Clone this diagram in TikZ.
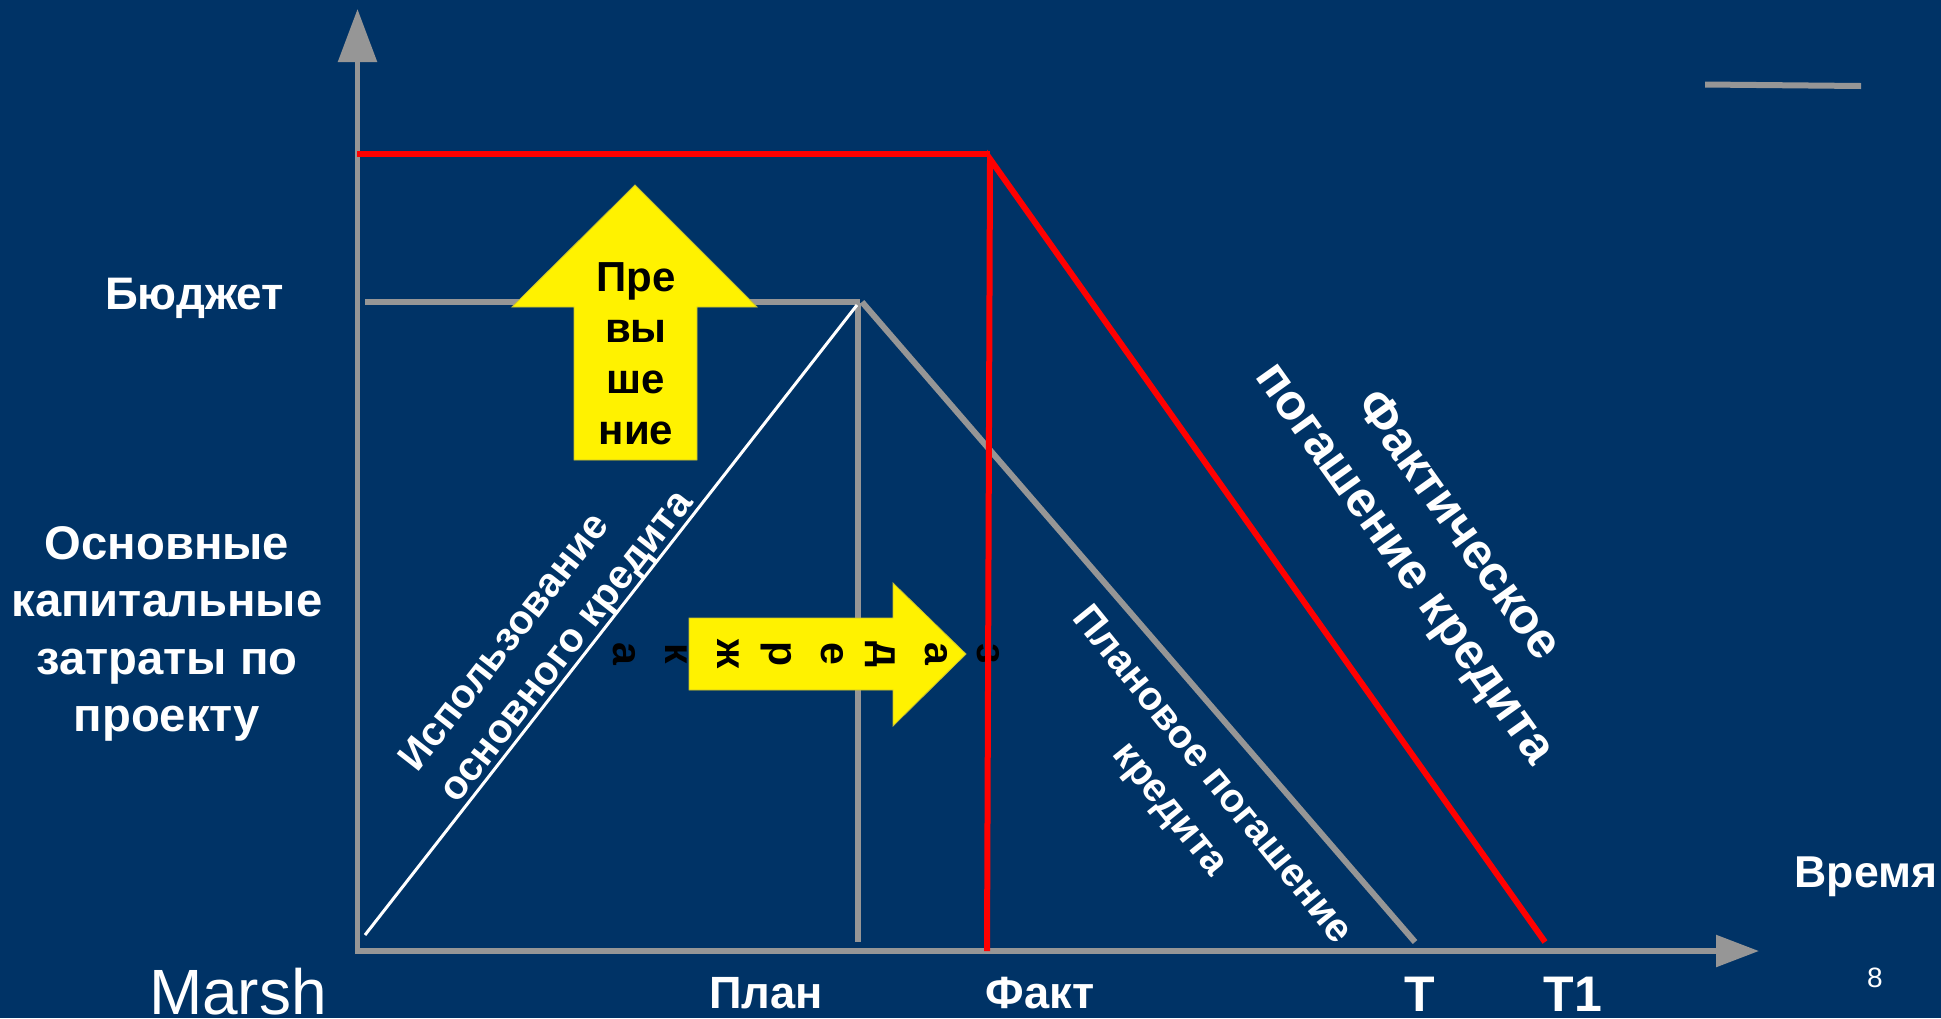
\documentclass[tikz,border=0pt]{standalone}
\usepackage{fontspec}
\setmainfont{Liberation Sans}
\usetikzlibrary{arrows.meta}

\definecolor{slidebg}{RGB}{0,51,102}
\definecolor{axisgray}{RGB}{150,150,150}

\tikzset{
    axisline/.style={draw=axisgray, line width=2.8pt},
    greyline/.style={draw=axisgray, line width=3pt},
    redline/.style={draw=red, line width=3pt},
    lbl/.style={text=white, inner sep=0pt},
    bigarrow/.style={fill=yellow, draw=yellow!75!black, line width=0.4pt},
    arrowtext/.style={text=black, inner sep=0pt, align=center},
}

\begin{document}
\begin{tikzpicture}[x=0.5pt, y=-0.5pt]
    % Background
    \fill[slidebg] (0,0) rectangle (1941,1018);
    \useasboundingbox (0,0) rectangle (1941,1018);

    % Key points
    \coordinate (O) at (357.5,951);
    \coordinate (ytop) at (357.5,9);
    \coordinate (xstart) at (355,951);
    \coordinate (xend) at (1759,951);
    \coordinate (budgetL) at (365,302);
    \coordinate (budgetR) at (860,302);
    \coordinate (planTop) at (858,303);
    \coordinate (planBot) at (858,942);
    \coordinate (peak) at (862,302);
    \coordinate (endT) at (1415,942);
    \coordinate (useBot) at (365,935);
    \coordinate (useTop) at (857,305);
    \coordinate (maxL) at (357,153.5);
    \coordinate (maxR) at (990,153.5);
    \coordinate (factBot) at (987,951);
    \coordinate (factTop) at (990,159);
    \coordinate (endT1) at (1545,942);

    % Axes
    \draw[axisline, -{Triangle[length=26.5pt,width=19pt]}] (O) -- (ytop);
    \draw[axisline, -{Triangle[length=21.5pt,width=15.5pt]}] (xstart) -- (xend);

    % Planned schedule
    \draw[greyline] (budgetL) -- (budgetR); % budget level
    \draw[greyline] (planTop) -- (planBot); % plan date
    \draw[greyline] (peak) -- (endT); % planned repayment
    \draw[white, line width=1.5pt] (useBot) -- (useTop); % credit drawdown

    % Stray line top right
    \draw[greyline] (1705,84.5) -- (1861,86);

    % Yellow arrows
    \draw[bigarrow] (574,460) -- (574,307) -- (512,307) -- (635,185) -- (757,307) -- (697,307) -- (697,460) -- cycle;
    \draw[bigarrow] (689,618) -- (893,618) -- (893,583) -- (966,654) -- (893,726) -- (893,690) -- (689,690) -- cycle;

    \node[arrowtext, font=\bfseries\fontsize{21}{25.5}\selectfont] (overrun) at (636,354) {Пре\\вы\\ше\\ние};
    \node[arrowtext, rotate=-90, font=\bfseries\fontsize{20.5}{26}\selectfont] (delay) at (806,654) {з\\а\\д\\е\\р\\ж\\к\\а};

    % Actual schedule
    \draw[redline] (maxL) -- (maxR); % actual level
    \draw[redline] (factBot) -- (factTop) -- (endT1); % actual date and repayment

    % Labels
    \node[lbl, anchor=base, font=\bfseries\fontsize{22.8}{27}\selectfont] (budget) at (194.5,309) {Бюджет};
    \node[lbl, align=center, font=\bfseries\fontsize{23.6}{28.75}\selectfont] (capex) at (167,634) {Основные\\капитальные\\затраты по\\проекту};
    \node[lbl, anchor=base, font=\fontsize{32}{37}\selectfont] (marsh) at (238,1014) {Marsh};
    \node[lbl, anchor=base, font=\bfseries\fontsize{22.6}{27}\selectfont] (plan) at (766,1008) {План};
    \node[lbl, anchor=base, font=\bfseries\fontsize{22.6}{27}\selectfont] (fact) at (1040,1008) {Факт};
    \node[lbl, anchor=base, font=\bfseries\fontsize{25}{30}\selectfont] (tT) at (1420,1011) {Т};
    \node[lbl, anchor=base, font=\bfseries\fontsize{25}{30}\selectfont] (tT1) at (1573,1011) {Т1};
    \node[lbl, anchor=base, font=\bfseries\fontsize{22.3}{27}\selectfont] (time) at (1866,887) {Время};
    \node[lbl, anchor=base, font=\fontsize{14}{17}\selectfont] (pageno) at (1875,987) {8};

    % Sloped labels
    \node[lbl, rotate=52, align=left, font=\bfseries\fontsize{20.3}{25.5}\selectfont] (usage) at (548,632) {Использование\\основного кредита};
    \node[lbl, rotate=-51, align=center, font=\bfseries\fontsize{20}{27}\selectfont] (planned) at (1190,793) {Плановое погашение\\кредита};
    \node[lbl, rotate=-54.5, align=center, font=\bfseries\fontsize{25}{32.5}\selectfont] (actual) at (1430,546) {Фактическое\\погашение кредита};
\end{tikzpicture}
\end{document}
